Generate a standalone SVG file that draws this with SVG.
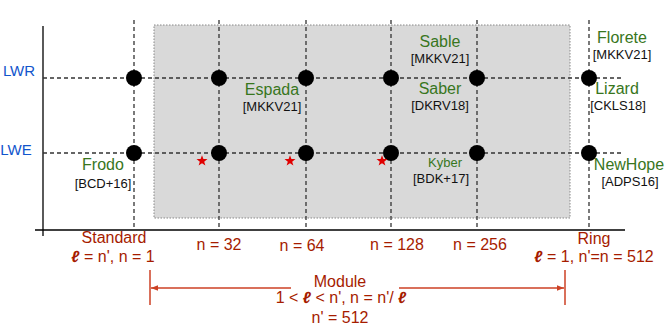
<svg xmlns="http://www.w3.org/2000/svg" width="666" height="333" viewBox="0 0 666 333">
<defs>
<style>
.grid{stroke:#333;stroke-width:1.3;stroke-dasharray:4 3;fill:none}
.axis{stroke:#000;stroke-width:1.3;fill:none}
.dot{fill:#000}
.lbl{font-family:"Liberation Sans",Arial,sans-serif;text-anchor:middle}
.blue{fill:#1155cc;font-size:15px}
.green{fill:#38761d;font-size:16px}
.ref{fill:#111;font-size:13px}
.red{fill:#a61c00;font-size:16px}
.ell{font-weight:bold;font-style:italic}
.star{fill:#e00000}
.arr{stroke:#cc4125;stroke-width:1.5;fill:none}
</style>
<marker id="ah" viewBox="0 0 10 10" refX="10" refY="5" markerWidth="7" markerHeight="7" orient="auto-start-reverse" markerUnits="userSpaceOnUse">
<path d="M0,1 L10,5 L0,9 z" fill="#cc4125"/>
</marker>
<path id="st" d="M0,-5.8 L1.4,-1.9 L5.5,-1.9 L2.2,0.7 L3.4,4.6 L0,2.3 L-3.4,4.6 L-2.2,0.7 L-5.5,-1.9 L-1.4,-1.9 z"/>
</defs>
<rect x="0" y="0" width="666" height="333" fill="#fff"/>
<g id="module-region">
<rect x="154" y="25" width="416" height="193" fill="#d9d9d9" stroke="#888" stroke-width="1" stroke-dasharray="1.5 1.5"/>
</g>
<g id="connectors">
<line class="axis" x1="43" y1="26" x2="43" y2="236"/>
<line class="axis" x1="35" y1="230" x2="625" y2="230"/>
<line class="grid" x1="134" y1="20" x2="134" y2="230"/>
<line class="grid" x1="219" y1="20" x2="219" y2="230"/>
<line class="grid" x1="306" y1="20" x2="306" y2="230"/>
<line class="grid" x1="391" y1="20" x2="391" y2="230"/>
<line class="grid" x1="477" y1="20" x2="477" y2="230"/>
<line class="grid" x1="589" y1="20" x2="589" y2="230"/>
<line class="grid" x1="43" y1="78" x2="622" y2="78"/>
<line class="grid" x1="43" y1="153" x2="622" y2="153"/>
<line class="arr" x1="150" y1="270" x2="150" y2="305"/>
<line class="arr" x1="565" y1="270" x2="565" y2="305"/>
<line class="arr" x1="291" y1="288" x2="151" y2="288" marker-end="url(#ah)"/>
<line class="arr" x1="399" y1="288" x2="564" y2="288" marker-end="url(#ah)"/>
</g>
<g id="dots">
<circle class="dot" cx="134" cy="78" r="8"/>
<circle class="dot" cx="219" cy="78" r="8"/>
<circle class="dot" cx="306" cy="78" r="8"/>
<circle class="dot" cx="391" cy="78" r="8"/>
<circle class="dot" cx="477" cy="78" r="8"/>
<circle class="dot" cx="589" cy="78" r="8"/>
<circle class="dot" cx="134" cy="153" r="8"/>
<circle class="dot" cx="219" cy="153" r="8"/>
<circle class="dot" cx="306" cy="153" r="8"/>
<circle class="dot" cx="391" cy="153" r="8"/>
<circle class="dot" cx="477" cy="153" r="8"/>
<circle class="dot" cx="589" cy="153" r="8"/>
</g>
<g id="stars">
<use href="#st" class="star" x="202" y="161"/>
<use href="#st" class="star" x="290" y="161"/>
<use href="#st" class="star" x="382" y="161"/>
</g>
<g id="axis-labels">
<text class="lbl blue" x="19" y="76">LWR</text>
<text class="lbl blue" x="16" y="155">LWE</text>
</g>
<g id="schemes">
<text class="lbl green" x="272" y="95">Espada</text>
<text class="lbl ref" x="272" y="111">[MKKV21]</text>
<text class="lbl green" x="440" y="47">Sable</text>
<text class="lbl ref" x="440" y="63">[MKKV21]</text>
<text class="lbl green" x="440" y="94">Saber</text>
<text class="lbl ref" x="440" y="110">[DKRV18]</text>
<text class="lbl green" x="622" y="43">Florete</text>
<text class="lbl ref" x="622" y="59">[MKKV21]</text>
<text class="lbl green" x="617" y="94">Lizard</text>
<text class="lbl ref" x="618" y="110">[CKLS18]</text>
<text class="lbl green" x="103" y="170">Frodo</text>
<text class="lbl ref" x="103" y="188">[BCD+16]</text>
<text class="lbl green" x="445" y="167" style="font-size:13px">Kyber</text>
<text class="lbl ref" x="441" y="183">[BDK+17]</text>
<text class="lbl green" x="629" y="170">NewHope</text>
<text class="lbl ref" x="630" y="186">[ADPS16]</text>
</g>
<g id="x-labels">
<text class="lbl red" x="114" y="243">Standard</text>
<text class="lbl red" x="113" y="262"><tspan class="ell">ℓ</tspan> = n', n = 1</text>
<text class="lbl red" x="219" y="250">n = 32</text>
<text class="lbl red" x="302" y="251">n = 64</text>
<text class="lbl red" x="397" y="250">n = 128</text>
<text class="lbl red" x="480" y="250">n = 256</text>
<text class="lbl red" x="594" y="244">Ring</text>
<text class="lbl red" x="594" y="262"><tspan class="ell">ℓ</tspan> = 1, n'=n = 512</text>
<text class="lbl red" x="340" y="287">Module</text>
<text class="lbl red" x="341" y="303">1 &lt; <tspan class="ell">ℓ</tspan>  &lt; n', n = n'/ <tspan class="ell">ℓ</tspan></text>
<text class="lbl red" x="340" y="323">n' = 512</text>
</g>
</svg>
